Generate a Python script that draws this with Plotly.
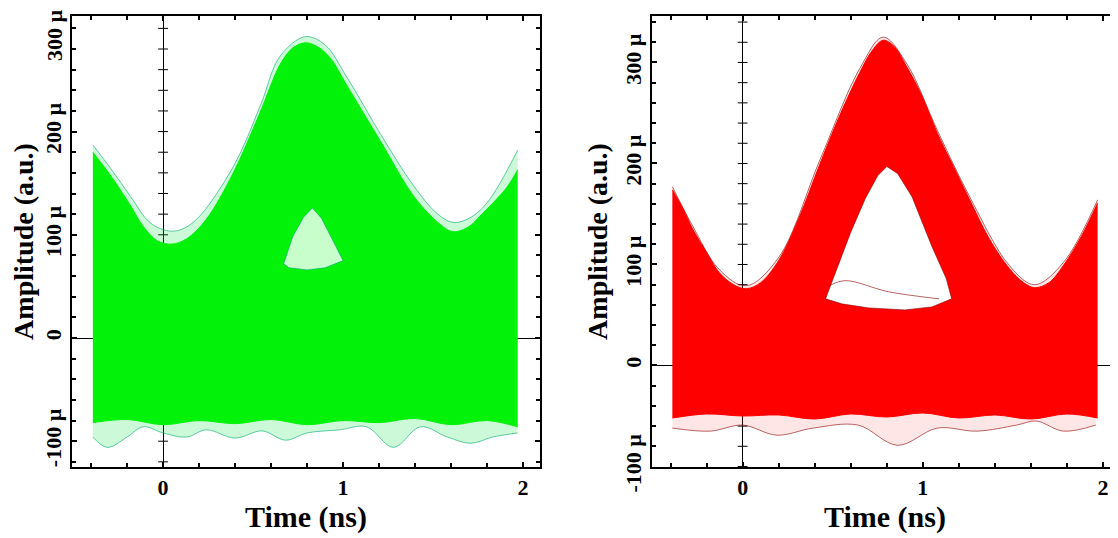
import plotly.graph_objects as go

# ---------------- data (amplitudes in micro-units) ----------------
# Left panel (green eye)
green_top_x = [-0.39, -0.29, -0.18, -0.11, -0.03, 0.05, 0.13, 0.24, 0.39, 0.54, 0.65, 0.72, 0.79,
               0.86, 0.93, 1.02, 1.21, 1.39, 1.52, 1.61, 1.70, 1.76, 1.91, 1.97]
green_top_y = [180, 157, 128, 108, 94, 91, 96, 115, 160, 219, 265, 281, 286,
               282, 271, 245, 190, 138, 113, 103, 108, 118, 146, 163]
green_halo_x = [-0.39, -0.29, -0.18, -0.08, 0.0, 0.08, 0.18, 0.39, 0.54, 0.65, 0.79, 0.9, 1.02,
                1.21, 1.39, 1.52, 1.61, 1.7, 1.8, 1.97]
green_halo_y = [187, 164, 137, 113, 105, 104, 114, 166, 225, 273, 292, 284, 253,
                197, 148, 121, 112, 116, 131, 182]
green_bot_x = [-0.39, -0.2, 0.0, 0.2, 0.4, 0.6, 0.8, 1.0, 1.2, 1.4, 1.6, 1.8, 1.97]
green_bot_y = [-82, -79, -84, -80, -83, -79, -84, -80, -82, -78, -84, -80, -86]
green_low_x = [-0.39, -0.31, -0.2, -0.11, 0.0, 0.13, 0.24, 0.4, 0.55, 0.68, 0.8, 0.98, 1.13,
               1.28, 1.43, 1.58, 1.71, 1.83, 1.97]
green_low_y = [-96, -106, -96, -86, -92, -96, -89, -97, -90, -99, -92, -89, -86,
               -106, -86, -96, -102, -96, -92]
green_hole_x = [0.67, 0.72, 0.78, 0.83, 0.88, 0.94, 1.0, 0.9, 0.8, 0.7, 0.67]
green_hole_y = [72, 98, 117, 126, 116, 96, 75, 68, 66, 68, 72]

# Right panel (red eye)
red_top_x = [-0.39, -0.33, -0.28, -0.2, -0.13, -0.05, 0.02, 0.1, 0.2, 0.31, 0.43, 0.54, 0.65,
             0.72, 0.78, 0.84, 0.91, 1.0, 1.08, 1.17, 1.26, 1.37, 1.48, 1.56, 1.62, 1.7, 1.78,
             1.88, 1.97]
red_top_y = [174, 155, 136, 112, 92, 80, 76, 82, 104, 145, 200, 248, 290,
             312, 322, 316, 296, 265, 230, 197, 164, 125, 96, 82, 77, 82, 99,
             128, 161]
red_halo_x = [-0.39, -0.28, -0.13, 0.02, 0.2, 0.43, 0.65, 0.78, 0.91, 1.08, 1.26, 1.48, 1.62,
              1.78, 1.97]
red_halo_y = [177, 139, 95, 79, 107, 204, 294, 325, 299, 233, 167, 99, 80, 102, 164]
red_bot_x = [-0.39, -0.2, 0.0, 0.2, 0.4, 0.6, 0.8, 1.0, 1.2, 1.4, 1.6, 1.8, 1.97]
red_bot_y = [-52, -48, -50, -49, -53, -48, -51, -47, -52, -49, -53, -48, -52]
red_low_x = [-0.39, -0.18, 0.0, 0.19, 0.39, 0.64, 0.86, 1.08, 1.3, 1.52, 1.63, 1.78, 1.96]
red_low_y = [-62, -65, -59, -69, -62, -59, -79, -62, -65, -59, -55, -65, -59]
red_hole_x = [0.80, 0.86, 0.94, 1.05, 1.13, 1.16, 1.05, 0.9, 0.7, 0.55, 0.46, 0.52, 0.6,
              0.68, 0.75, 0.80]
red_hole_y = [197, 190, 167, 118, 86, 66, 58, 55, 57, 61, 66, 95, 132,
              165, 188, 197]
red_inner_x = [0.48, 0.57, 0.81, 1.09]
red_inner_y = [79, 84, 73, 66]

x_major = [0, 1, 2]
x_minor = [-0.4, -0.2, 0.2, 0.4, 0.6, 0.8, 1.2, 1.4, 1.6, 1.8]
y_major = [-100, 0, 100, 200, 300]
y_major_text = ["-100 µ", "0", "100 µ", "200 µ", "300 µ"]
y_minor = [-120, -80, -60, -40, -20, 20, 40, 60, 80, 120, 140, 160, 180, 220, 240, 260, 280, 320, 340]

# page body has an 8 px margin: size the figure and place panels accordingly
W, H, OFF = 1110, 530, 8


def xd(px):
    return (px - OFF) / W


def yd(py):
    return 1 - (py - OFF) / H


panels = [
    dict(top=(green_top_x, green_top_y), halo=(green_halo_x, green_halo_y),
         bot=(green_bot_x, green_bot_y), low=(green_low_x, green_low_y),
         hole=(green_hole_x, green_hole_y), inner=None,
         fill="#02f20a", band="rgba(0,225,60,0.2)", edge="rgba(0,170,110,0.6)",
         holefill="rgba(235,255,238,0.85)", top_label_annot=True,
         xr=[-0.506, 2.094], yr=[-125, 312], dom=[xd(72), xd(540)]),
    dict(top=(red_top_x, red_top_y), halo=(red_halo_x, red_halo_y),
         bot=(red_bot_x, red_bot_y), low=(red_low_x, red_low_y),
         hole=(red_hole_x, red_hole_y), inner=(red_inner_x, red_inner_y),
         fill="#ff0000", band="rgba(255,60,60,0.13)", edge="rgba(140,0,0,0.6)",
         holefill="white", top_label_annot=False,
         xr=[-0.503, 2.083], yr=[-100.5, 346], dom=[xd(652), 1.0]),
]

fig = go.Figure()
FONT = "Liberation Serif, Times New Roman, serif"
TICKFONT = dict(family=FONT, size=22, color="black", weight="bold")
ydom = [yd(467), yd(16)]

for i, p in enumerate(panels):
    xa = "x" if i == 0 else "x2"
    ya = "y" if i == 0 else "y2"
    kw = dict(xaxis=xa, yaxis=ya, hoverinfo="skip")
    # ticks along the x = 0 line
    fig.add_trace(go.Scatter(x=[0] * len(y_minor + y_major), y=y_minor + y_major, mode="markers",
                             marker=dict(symbol="line-ew", size=7, line=dict(color="black", width=1)),
                             **kw))
    # faint band of outlying traces
    fig.add_trace(go.Scatter(x=p["low"][0], y=p["low"][1], mode="lines",
                             line=dict(color=p["edge"], width=1, shape="spline"), **kw))
    fig.add_trace(go.Scatter(x=p["halo"][0], y=p["halo"][1], mode="lines", fill="tonexty",
                             fillcolor=p["band"],
                             line=dict(color=p["edge"], width=1, shape="spline"), **kw))
    # main filled eye envelope
    fig.add_trace(go.Scatter(x=p["bot"][0], y=p["bot"][1], mode="lines",
                             line=dict(color=p["fill"], width=1, shape="spline"), **kw))
    fig.add_trace(go.Scatter(x=p["top"][0], y=p["top"][1], mode="lines", fill="tonexty",
                             fillcolor=p["fill"],
                             line=dict(color=p["fill"], width=1, shape="spline"), **kw))
    # eye opening
    fig.add_trace(go.Scatter(x=p["hole"][0], y=p["hole"][1], mode="lines", fill="toself",
                             fillcolor=p["holefill"], line=dict(color=p["edge"], width=1), **kw))
    if p["inner"] is not None:
        fig.add_trace(go.Scatter(x=p["inner"][0], y=p["inner"][1], mode="lines",
                                 line=dict(color=p["edge"], width=1, shape="spline"), **kw))

    if p["top_label_annot"]:
        # topmost label sits a little below its tick so that it stays on the page
        tv, tt = y_major[:-1], y_major_text[:-1]
        minor_vals = y_minor + [y_major[-1]]
        fig.add_annotation(text=y_major_text[-1], textangle=-90, showarrow=False,
                           xref="paper", x=p["dom"][0], xanchor="right", xshift=-3,
                           yref=ya, y=y_major[-1], yanchor="middle", yshift=-7,
                           font=TICKFONT)
    else:
        tv, tt, minor_vals = y_major, y_major_text, y_minor

    axis_common = dict(showline=True, linecolor="black", linewidth=1.5, mirror="allticks",
                       showgrid=False, zeroline=True, zerolinecolor="black", zerolinewidth=1,
                       ticks="inside", ticklen=5, tickcolor="black", tickwidth=1.5,
                       automargin=False, ticklabeloverflow="allow", tickfont=TICKFONT)
    xaxis = dict(axis_common, range=p["xr"], domain=p["dom"], anchor=ya,
                 tickmode="array", tickvals=x_major, ticktext=[str(v) for v in x_major],
                 minor=dict(tickmode="array", tickvals=x_minor, ticks="inside", ticklen=4,
                            tickcolor="black", tickwidth=1.5),
                 title=dict(text="Time (ns)", standoff=0,
                            font=dict(family=FONT, size=30, color="black", weight="bold")))
    yaxis = dict(axis_common, range=p["yr"], domain=ydom, anchor=xa,
                 tickmode="array", tickvals=tv, ticktext=tt, tickangle=-90,
                 minor=dict(tickmode="array", tickvals=minor_vals, ticks="inside", ticklen=4,
                            tickcolor="black", tickwidth=1.5),
                 title=dict(text="Amplitude (a.u.)", standoff=6,
                            font=dict(family=FONT, size=28, color="black", weight="bold")))
    if i == 0:
        fig.update_layout(xaxis=xaxis, yaxis=yaxis)
    else:
        fig.update_layout(xaxis2=xaxis, yaxis2=yaxis)

fig.update_layout(width=W, height=H, showlegend=False,
                  margin=dict(l=0, r=0, t=0, b=0),
                  paper_bgcolor="white", plot_bgcolor="white")
fig.write_html("out.html")
